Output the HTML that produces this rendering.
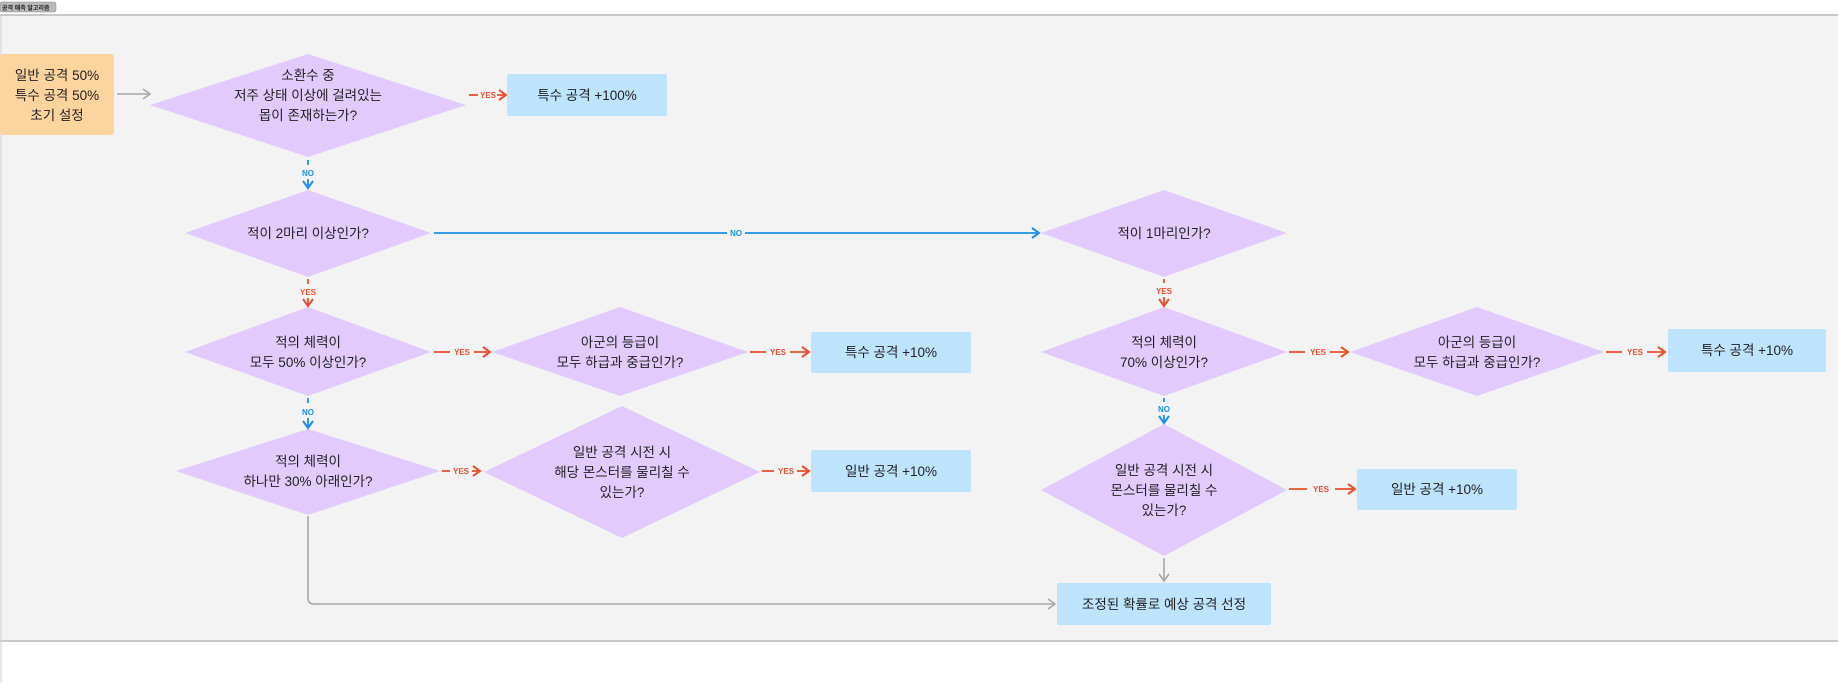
<!DOCTYPE html>
<html><head><meta charset="utf-8"><style>
html,body{margin:0;padding:0;background:#fff;width:1838px;height:683px;overflow:hidden}
svg text{font-family:"Liberation Sans","Noto Sans CJK KR",sans-serif}
</style></head><body>
<svg width="1838" height="683" viewBox="0 0 1838 683" xmlns="http://www.w3.org/2000/svg">
<defs>
<marker id="ag" markerWidth="12" markerHeight="12" refX="9" refY="6" orient="auto" markerUnits="userSpaceOnUse"><path d="M2,1 L9,6 L2,11" fill="none" stroke="#a8a8a8" stroke-width="1.6"/></marker>
<marker id="ar" markerWidth="12" markerHeight="12" refX="9" refY="6" orient="auto" markerUnits="userSpaceOnUse"><path d="M2,1 L9,6 L2,11" fill="none" stroke="#e8502e" stroke-width="2"/></marker>
<marker id="ab" markerWidth="12" markerHeight="12" refX="9" refY="6" orient="auto" markerUnits="userSpaceOnUse"><path d="M2,1 L9,6 L2,11" fill="none" stroke="#1b8fe8" stroke-width="2"/></marker>
</defs>
<rect x="0" y="0" width="1838" height="683" fill="#fff"/>
<rect x="0" y="15" width="1838" height="626" fill="#f3f3f3"/>
<line x1="0" y1="15" x2="1838" y2="15" stroke="#c8c8c8" stroke-width="2"/>
<line x1="0" y1="641" x2="1838" y2="641" stroke="#c8c8c8" stroke-width="2"/>
<line x1="1" y1="15" x2="1" y2="683" stroke="#d0d0d0" stroke-width="1"/>
<rect x="0" y="2" width="56" height="10" rx="2" fill="#b9b9b9" stroke="#888" stroke-width="0.5"/>
<text x="2" y="10" font-size="6" font-weight="bold" fill="#222">공격 예측 알고리즘</text>

<g font-size="13.5" fill="#222" text-anchor="middle">
<!-- origin -->
<rect x="0" y="54" width="114" height="81" rx="3" fill="#fdd49e"/>
<text x="57" y="80">일반 공격 50%</text><text x="57" y="100">특수 공격 50%</text><text x="57" y="120">초기 설정</text>
<line x1="117" y1="94" x2="150" y2="94" stroke="#a8a8a8" stroke-width="1.6" marker-end="url(#ag)"/>

<!-- D1 -->
<polygon points="150,105 308,54 466,105 308,157" fill="#e2cbfc"/>
<text x="308" y="80">소환수 중</text><text x="308" y="100">저주 상태 이상에 걸려있는</text><text x="308" y="120">몹이 존재하는가?</text>
<rect x="507" y="74" width="160" height="42" rx="2" fill="#bde3fd"/>
<text x="587" y="100">특수 공격 +100%</text>

<!-- D2 -->
<polygon points="185,233 308,190 431,233 308,277" fill="#e2cbfc"/>
<text x="308" y="238">적이 2마리 이상인가?</text>
<!-- D3 -->
<polygon points="1041,233 1164,190 1287,233 1164,277" fill="#e2cbfc"/>
<text x="1164" y="238">적이 1마리인가?</text>

<!-- D4 -->
<polygon points="185,352 308,307 431,352 308,396" fill="#e2cbfc"/>
<text x="308" y="347">적의 체력이</text><text x="308" y="367">모두 50% 이상인가?</text>
<polygon points="492,352 620,307 748,352 620,396" fill="#e2cbfc"/>
<text x="620" y="347">아군의 등급이</text><text x="620" y="367">모두 하급과 중급인가?</text>
<rect x="811" y="332" width="160" height="41" rx="2" fill="#bde3fd"/>
<text x="891" y="357">특수 공격 +10%</text>

<!-- D6 -->
<polygon points="176,471 308,429 440,471 308,515" fill="#e2cbfc"/>
<text x="308" y="466">적의 체력이</text><text x="308" y="486">하나만 30% 아래인가?</text>
<polygon points="484,472 622,406 760,472 622,538" fill="#e2cbfc"/>
<text x="622" y="457">일반 공격 시전 시</text><text x="622" y="477">해당 몬스터를 물리칠 수</text><text x="622" y="497">있는가?</text>
<rect x="811" y="450" width="160" height="42" rx="2" fill="#bde3fd"/>
<text x="891" y="476">일반 공격 +10%</text>

<!-- right column -->
<polygon points="1041,352 1164,307 1287,352 1164,396" fill="#e2cbfc"/>
<text x="1164" y="347">적의 체력이</text><text x="1164" y="367">70% 이상인가?</text>
<polygon points="1350,352 1477,307 1604,352 1477,396" fill="#e2cbfc"/>
<text x="1477" y="347">아군의 등급이</text><text x="1477" y="367">모두 하급과 중급인가?</text>
<rect x="1668" y="329" width="158" height="43" rx="2" fill="#bde3fd"/>
<text x="1747" y="355">특수 공격 +10%</text>
<polygon points="1041,490 1164,424 1287,490 1164,556" fill="#e2cbfc"/>
<text x="1164" y="475">일반 공격 시전 시</text><text x="1164" y="495">몬스터를 물리칠 수</text><text x="1164" y="515">있는가?</text>
<rect x="1357" y="469" width="160" height="41" rx="2" fill="#bde3fd"/>
<text x="1437" y="494">일반 공격 +10%</text>
<rect x="1057" y="583" width="214" height="42" rx="2" fill="#bde3fd"/>
<text x="1164" y="609">조정된 확률로 예상 공격 선정</text>
</g>

<!-- connectors -->
<g fill="none" stroke-width="1.8">
<path d="M308,516 V598 Q308,604 314,604 H1055" stroke="#a8a8a8" stroke-width="1.6" marker-end="url(#ag)"/>
<line x1="1164" y1="558" x2="1164" y2="581" stroke="#a8a8a8" stroke-width="1.6" marker-end="url(#ag)"/>
<!-- yes horizontals -->
<line x1="469" y1="95" x2="478" y2="95" stroke="#e8502e"/><line x1="497" y1="95" x2="506" y2="95" stroke="#e8502e" marker-end="url(#ar)"/>
<line x1="434" y1="352" x2="450" y2="352" stroke="#e8502e"/><line x1="474" y1="352" x2="490" y2="352" stroke="#e8502e" marker-end="url(#ar)"/>
<line x1="750" y1="352" x2="766" y2="352" stroke="#e8502e"/><line x1="790" y1="352" x2="809" y2="352" stroke="#e8502e" marker-end="url(#ar)"/>
<line x1="442" y1="471" x2="450" y2="471" stroke="#e8502e"/><line x1="472" y1="471" x2="480" y2="471" stroke="#e8502e" marker-end="url(#ar)"/>
<line x1="762" y1="471" x2="774" y2="471" stroke="#e8502e"/><line x1="797" y1="471" x2="809" y2="471" stroke="#e8502e" marker-end="url(#ar)"/>
<line x1="1289" y1="352" x2="1305" y2="352" stroke="#e8502e"/><line x1="1330" y1="352" x2="1348" y2="352" stroke="#e8502e" marker-end="url(#ar)"/>
<line x1="1606" y1="352" x2="1622" y2="352" stroke="#e8502e"/><line x1="1647" y1="352" x2="1665" y2="352" stroke="#e8502e" marker-end="url(#ar)"/>
<line x1="1289" y1="489" x2="1307" y2="489" stroke="#e8502e"/><line x1="1335" y1="489" x2="1355" y2="489" stroke="#e8502e" marker-end="url(#ar)"/>
<!-- NO horizontal -->
<line x1="434" y1="233" x2="727" y2="233" stroke="#1b8fe8"/><line x1="745" y1="233" x2="1039" y2="233" stroke="#1b8fe8" marker-end="url(#ab)"/>
<!-- verticals -->
<line x1="308" y1="160" x2="308" y2="165" stroke="#1b8fe8"/><line x1="308" y1="179" x2="308" y2="188" stroke="#1b8fe8" marker-end="url(#ab)"/>
<line x1="308" y1="279" x2="308" y2="284" stroke="#e8502e"/><line x1="308" y1="298" x2="308" y2="306" stroke="#e8502e" marker-end="url(#ar)"/>
<line x1="308" y1="398" x2="308" y2="403" stroke="#1b8fe8"/><line x1="308" y1="418" x2="308" y2="428" stroke="#1b8fe8" marker-end="url(#ab)"/>
<line x1="1164" y1="279" x2="1164" y2="283" stroke="#e8502e"/><line x1="1164" y1="297" x2="1164" y2="306" stroke="#e8502e" marker-end="url(#ar)"/>
<line x1="1164" y1="398" x2="1164" y2="402" stroke="#1b8fe8"/><line x1="1164" y1="415" x2="1164" y2="423" stroke="#1b8fe8" marker-end="url(#ab)"/>
</g>
<g font-size="8" font-weight="bold" text-anchor="middle">
<text x="488" y="98" fill="#e8502e">YES</text>
<text x="462" y="355" fill="#e8502e">YES</text>
<text x="778" y="355" fill="#e8502e">YES</text>
<text x="461" y="474" fill="#e8502e">YES</text>
<text x="786" y="474" fill="#e8502e">YES</text>
<text x="1318" y="355" fill="#e8502e">YES</text>
<text x="1635" y="355" fill="#e8502e">YES</text>
<text x="1321" y="492" fill="#e8502e">YES</text>
<text x="308" y="295" fill="#e8502e">YES</text>
<text x="1164" y="294" fill="#e8502e">YES</text>
<text x="308" y="176" fill="#1b8fe8">NO</text>
<text x="308" y="415" fill="#1b8fe8">NO</text>
<text x="1164" y="412" fill="#1b8fe8">NO</text>
<text x="736" y="236" fill="#1b8fe8">NO</text>
</g>
</svg>
</body></html>
